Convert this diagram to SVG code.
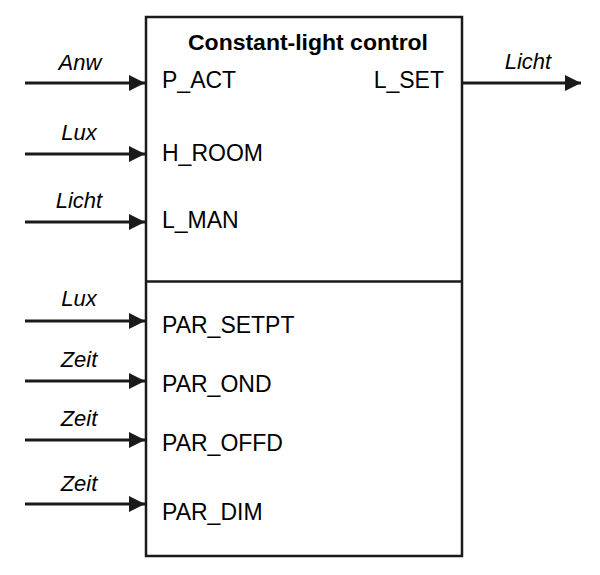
<svg xmlns="http://www.w3.org/2000/svg" width="600" height="575" viewBox="0 0 600 575">
<style>
.box{fill:#fff;stroke:#1a1a1a;stroke-width:2.5}
.wire{stroke:#1a1a1a;stroke-width:3;fill:none}
.port{font-family:"Liberation Sans",Arial,sans-serif;font-size:23px;fill:#000}
.sig{font-family:"Liberation Sans",Arial,sans-serif;font-size:22px;font-style:italic;fill:#000;text-anchor:middle}
.title{font-family:"Liberation Sans",Arial,sans-serif;font-size:22px;font-weight:bold;fill:#000;text-anchor:middle}
</style>
<defs>
<marker id="ah" markerWidth="17" markerHeight="17" refX="16" refY="8" orient="auto" markerUnits="userSpaceOnUse">
<path d="M0,0 L16,8 L0,16 Z" fill="#1a1a1a"/>
</marker>
</defs>
<g id="block">
<rect class="box" x="146" y="17" width="316" height="539"/>
<line x1="146" y1="281.5" x2="462" y2="281.5" stroke="#1a1a1a" stroke-width="2.5"/>
<text class="title" x="308" y="50" textLength="240" lengthAdjust="spacingAndGlyphs">Constant-light control</text>
<text class="port" x="162" y="88">P_ACT</text>
<text class="port" x="162" y="161">H_ROOM</text>
<text class="port" x="162" y="228">L_MAN</text>
<text class="port" x="444" y="88" text-anchor="end">L_SET</text>
<text class="port" x="162" y="333">PAR_SETPT</text>
<text class="port" x="162" y="392">PAR_OND</text>
<text class="port" x="162" y="451">PAR_OFFD</text>
<text class="port" x="162" y="520">PAR_DIM</text>
</g>
<g id="connectors">
<line class="wire" x1="25" y1="83" x2="145" y2="83" marker-end="url(#ah)"/>
<line class="wire" x1="25" y1="154" x2="145" y2="154" marker-end="url(#ah)"/>
<line class="wire" x1="25" y1="222" x2="145" y2="222" marker-end="url(#ah)"/>
<line class="wire" x1="25" y1="321" x2="145" y2="321" marker-end="url(#ah)"/>
<line class="wire" x1="25" y1="381" x2="145" y2="381" marker-end="url(#ah)"/>
<line class="wire" x1="25" y1="440" x2="145" y2="440" marker-end="url(#ah)"/>
<line class="wire" x1="25" y1="504" x2="145" y2="504" marker-end="url(#ah)"/>
<line class="wire" x1="462" y1="83" x2="581" y2="83" marker-end="url(#ah)"/>
</g>
<g id="signal-labels">
<text class="sig" x="80" y="70">Anw</text>
<text class="sig" x="79" y="140">Lux</text>
<text class="sig" x="79" y="208">Licht</text>
<text class="sig" x="79" y="306">Lux</text>
<text class="sig" x="79" y="367">Zeit</text>
<text class="sig" x="79" y="426">Zeit</text>
<text class="sig" x="79" y="491">Zeit</text>
<text class="sig" x="528" y="69">Licht</text>
</g>
</svg>
